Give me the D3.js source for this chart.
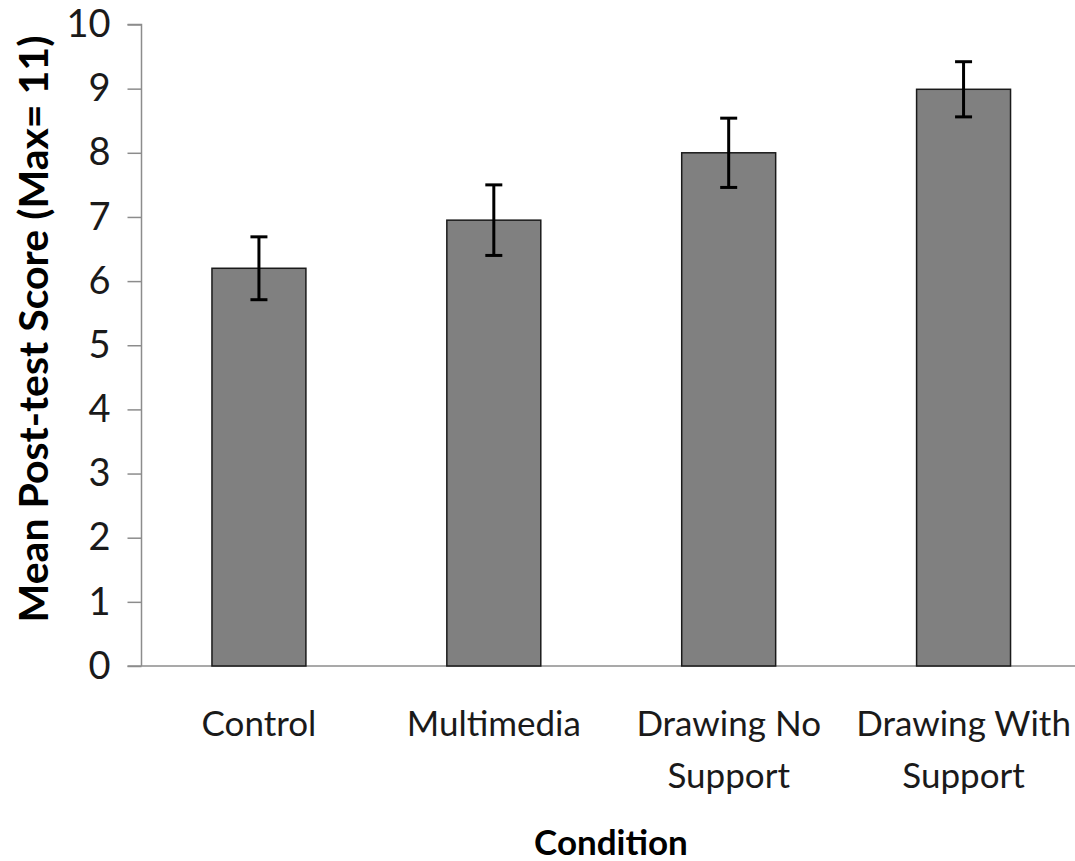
<!DOCTYPE html>
<html><head><meta charset="utf-8">
<script src="https://cdn.jsdelivr.net/npm/d3@7"></script>
<style>body{margin:0;background:#fff}svg{display:block}</style>
</head><body>
<svg id="c" width="1075" height="861"></svg>
<script>
const categories = [["Control"], ["Multimedia"], ["Drawing No", "Support"], ["Drawing With", "Support"]];
const means = [6.2, 6.95, 8.0, 8.99];
const errors = [0.49, 0.55, 0.54, 0.43];
const yTicks = [0,1,2,3,4,5,6,7,8,9,10];
const yTitle = "Mean Post-test Score (Max= 11)";
const xTitle = "Condition";

(function(){
const svg = d3.select("#c");
const font = "Lato, 'Open Sans', sans-serif";
const pLeft = 141.5, pRight = 1081, pTop = 24.5, pBottom = 666;
const x = d3.scaleBand().domain(d3.range(categories.length)).range([pLeft, pRight]).paddingInner(0.6).paddingOuter(0.3);
const y = d3.scaleLinear().domain([0, 10]).range([pBottom, pTop]);

// axes
const ya = svg.append("g").attr("transform", `translate(${pLeft},0)`)
  .call(d3.axisLeft(y).tickValues(yTicks).tickSize(14).tickPadding(17).tickFormat(d3.format("d")));
ya.select(".domain").attr("stroke", "#8c8c8c").attr("stroke-width", 1.5).attr("d", `M-14,${pTop}H0V${pBottom}`);
ya.selectAll(".tick line").attr("stroke", "#8c8c8c").attr("stroke-width", 1.5);
ya.selectAll(".tick text").attr("font-family", font).attr("font-size", 38).attr("fill", "#1a1a1a");

svg.append("line").attr("x1", pLeft - 14).attr("x2", 1075).attr("y1", pBottom).attr("y2", pBottom)
  .attr("stroke", "#8c8c8c").attr("stroke-width", 1.5);

// bars
svg.selectAll("rect.bar").data(means).join("rect").attr("class", "bar")
  .attr("x", (d, i) => x(i)).attr("width", x.bandwidth())
  .attr("y", d => y(d)).attr("height", d => y(0) - y(d))
  .attr("fill", "#808080").attr("stroke", "#1a1a1a").attr("stroke-width", 1.5);

// error bars
const eg = svg.selectAll("g.err").data(means).join("g").attr("class", "err");
eg.append("line").attr("x1", (d, i) => x(i) + x.bandwidth() / 2).attr("x2", (d, i) => x(i) + x.bandwidth() / 2)
  .attr("y1", (d, i) => y(d + errors[i])).attr("y2", (d, i) => y(d - errors[i]))
  .attr("stroke", "#000").attr("stroke-width", 3);
[1, -1].forEach(s => {
  eg.append("line").attr("x1", (d, i) => x(i) + x.bandwidth() / 2 - 8.5).attr("x2", (d, i) => x(i) + x.bandwidth() / 2 + 8.5)
    .attr("y1", (d, i) => y(d + s * errors[i])).attr("y2", (d, i) => y(d + s * errors[i]))
    .attr("stroke", "#000").attr("stroke-width", 3);
});

// category labels
const lab = svg.selectAll("text.cat").data(categories).join("text").attr("class", "cat")
  .attr("font-family", font).attr("font-size", 35).attr("fill", "#1a1a1a").attr("text-anchor", "middle");
lab.selectAll("tspan").data((d, i) => d.map(t => ({t, i}))).join("tspan")
  .attr("x", d => x(d.i) + x.bandwidth() / 2).attr("y", (d, j) => 736 + j * 52).text(d => d.t);

// titles
svg.append("text").attr("x", 611).attr("y", 855).attr("text-anchor", "middle")
  .attr("font-family", font).attr("font-weight", "bold").attr("font-size", 35).attr("fill", "#000").text(xTitle);
svg.append("text").attr("transform", `translate(48,329) rotate(-90)`).attr("text-anchor", "middle")
  .attr("font-family", font).attr("font-weight", "bold").attr("font-size", 41).attr("fill", "#000").text(yTitle);
})();
</script>
</body></html>
